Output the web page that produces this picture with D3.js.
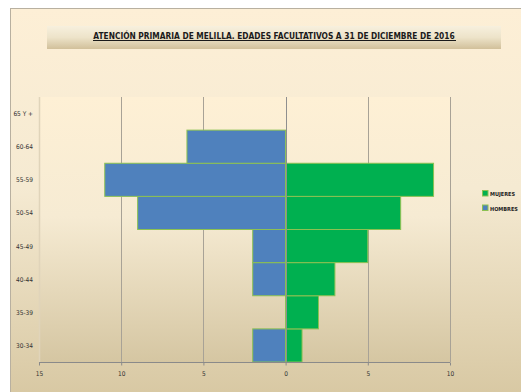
<!DOCTYPE html>
<html>
<head>
<meta charset="utf-8">
<script src="https://cdn.jsdelivr.net/npm/d3@7"></script>
<style>
  html, body { margin: 0; padding: 0; background: #ffffff; }
  svg { display: block; }
</style>
</head>
<body>
<svg id="chart" width="521" height="392"></svg>
<script>
// Age groups, bottom to top as drawn
const ageGroups = ["30-34", "35-39", "40-44", "45-49", "50-54", "55-59", "60-64", "65 Y +"];
// Number of doctors per age group
const mujeres = [1, 2, 3, 5, 7, 9, 0, 0];
const hombres = [2, 0, 2, 2, 9, 11, 6, 0];
const xTicks = [-15, -10, -5, 0, 5, 10];
const titleText = "ATENCIÓN PRIMARIA DE MELILLA. EDADES FACULTATIVOS A 31 DE DICIEMBRE DE 2016";
const legendItems = [
  { label: "MUJERES", color: "#00b050" },
  { label: "HOMBRES", color: "#4f81bd" }
];

const FONT = "'DejaVu Sans Condensed', 'Liberation Sans', sans-serif";
const svg = d3.select("#chart");
const defs = svg.append("defs");

function vGrad(id, stops) {
  const g = defs.append("linearGradient").attr("id", id)
    .attr("x1", 0).attr("y1", 0).attr("x2", 0).attr("y2", 1);
  stops.forEach(([o, c]) => g.append("stop").attr("offset", o).attr("stop-color", c));
}
vGrad("bgGrad", [[0, "#fdefd6"], [0.45, "#f5ead2"], [1, "#d6c6a0"]]);
vGrad("plotGrad", [[0, "#fef0d5"], [0.45, "#f6ebd3"], [1, "#d5c6a2"]]);
vGrad("titleGrad", [[0, "#f7f0de"], [0.5, "#ede3c9"], [1, "#d1c09a"]]);

// Chart area
svg.append("rect")
  .attr("x", 10.5).attr("y", 8.5).attr("width", 520).attr("height", 400)
  .attr("fill", "url(#bgGrad)").attr("stroke", "#b8b0a0").attr("stroke-width", 1);

// Title box
svg.append("rect")
  .attr("x", 47).attr("y", 26).attr("width", 454).attr("height", 23)
  .attr("fill", "url(#titleGrad)");
const title = svg.append("text")
  .attr("x", 274).attr("y", 38.5)
  .attr("text-anchor", "middle")
  .attr("font-family", FONT)
  .attr("font-weight", "bold")
  .attr("font-size", 10)
  .attr("fill", "#1a1a1a")
  .text(titleText);
// size the title so it spans its underline
const natural = title.node().getComputedTextLength();
title.attr("font-size", 10 * 362 / natural);
svg.append("line")
  .attr("x1", 93).attr("x2", 456).attr("y1", 40.5).attr("y2", 40.5)
  .attr("stroke", "#1a1a1a").attr("stroke-width", 1);

// Plot area
const plot = { left: 39, right: 450, top: 97, bottom: 362 };
const x = d3.scaleLinear().domain([-15, 10]).range([plot.left, plot.right]);
const y = d3.scaleBand().domain(ageGroups).range([plot.bottom, plot.top]).paddingInner(0).paddingOuter(0);

svg.append("rect")
  .attr("x", plot.left).attr("y", plot.top)
  .attr("width", plot.right - plot.left).attr("height", plot.bottom - plot.top)
  .attr("fill", "url(#plotGrad)");
// faint left edge of plot area
svg.append("line")
  .attr("x1", plot.left + 0.5).attr("x2", plot.left + 0.5)
  .attr("y1", plot.top).attr("y2", plot.bottom)
  .attr("stroke", "#e0d4ba").attr("stroke-width", 1.5);

// Vertical gridlines
svg.append("g").selectAll("line")
  .data(xTicks.filter(t => t !== -15 && t !== 0))
  .join("line")
  .attr("x1", d => Math.round(x(d)) + 0.5).attr("x2", d => Math.round(x(d)) + 0.5)
  .attr("y1", plot.top).attr("y2", plot.bottom)
  .attr("stroke", "#a8a296").attr("stroke-width", 1);

// Bars
const rows = ageGroups.map((g, i) => ({ group: g, m: mujeres[i], h: hombres[i] }));
const barStroke = "#8cc152";
svg.append("g").selectAll("rect.h")
  .data(rows.filter(d => d.h > 0))
  .join("rect")
  .attr("x", d => x(-d.h)).attr("y", d => y(d.group))
  .attr("width", d => x(0) - x(-d.h)).attr("height", y.bandwidth())
  .attr("fill", "#4f81bd").attr("stroke", barStroke).attr("stroke-width", 1);
svg.append("g").selectAll("rect.m")
  .data(rows.filter(d => d.m > 0))
  .join("rect")
  .attr("x", x(0)).attr("y", d => y(d.group))
  .attr("width", d => x(d.m) - x(0)).attr("height", y.bandwidth())
  .attr("fill", "#00b050").attr("stroke", barStroke).attr("stroke-width", 1);

// Vertical axis at zero
svg.append("line")
  .attr("x1", Math.round(x(0)) + 0.5).attr("x2", Math.round(x(0)) + 0.5)
  .attr("y1", plot.top).attr("y2", plot.bottom)
  .attr("stroke", "#8f8f8f").attr("stroke-width", 1);

// Bottom axis
const xAxis = d3.axisBottom(x).tickValues(xTicks).tickFormat(d => Math.abs(d)).tickSize(3).tickPadding(6);
const gx = svg.append("g").attr("transform", `translate(0,${plot.bottom + 0.5})`).call(xAxis);
gx.select(".domain").attr("stroke", "#8a8a8a").attr("stroke-width", 1.2).attr("d", `M${plot.left},0H${plot.right}`);
gx.selectAll(".tick line").attr("stroke", "#8a8a8a");
gx.selectAll(".tick text")
  .attr("font-family", FONT)
  .attr("font-size", 6.5).attr("fill", "#333");

// Category labels
svg.append("g").selectAll("text")
  .data(ageGroups)
  .join("text")
  .attr("x", 33).attr("y", d => y(d) + y.bandwidth() / 2 + 2.5)
  .attr("text-anchor", "end")
  .attr("font-family", FONT)
  .attr("font-size", 6.5).attr("fill", "#333")
  .text(d => d);

// Legend
const leg = svg.append("g").attr("transform", "translate(482,190)");
const legRows = leg.selectAll("g")
  .data(legendItems)
  .join("g")
  .attr("transform", (d, i) => `translate(0,${i * 14.5})`);
legRows.append("rect").attr("x", 0.5).attr("y", 0.5).attr("width", 5.5).attr("height", 5.5)
  .attr("fill", d => d.color).attr("stroke", barStroke).attr("stroke-width", 1);
const legText = legRows.append("text").attr("x", 8).attr("y", 6)
  .attr("font-family", FONT)
  .attr("font-weight", "bold")
  .attr("font-size", 7).attr("fill", "#222")
  .text(d => d.label);
// shrink legend labels so the widest fits inside the window
const widest = d3.max(legText.nodes(), n => n.getComputedTextLength());
legText.attr("font-size", Math.min(7, 7 * 28 / widest));
</script>
</body>
</html>
